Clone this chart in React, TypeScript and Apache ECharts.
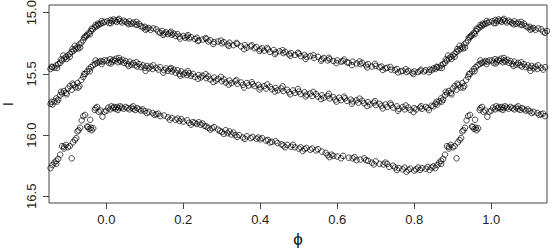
import React, { useEffect, useRef } from "react";
import * as echarts from "echarts";

// Phase range shown and tick values
const xMin = -0.149;
const xMax = 1.145;
const yMin = 14.937;
const yMax = 16.555;
const xTicks = [0, 0.2, 0.4, 0.6, 0.8, 1.0];
const yTicks = [15.0, 15.5, 16.0, 16.5];

// Light curve 1 (brightest), [phase, I mag], phase in [0,1)
const curveTop: number[][] = [
  [0.003,15.07],[0.007,15.085],[0.011,15.06],[0.015,15.07],[0.019,15.055],[0.023,15.065],[0.027,15.075],[0.031,15.06],[0.036,15.07],[0.041,15.08],
  [0.045,15.065],[0.05,15.075],[0.055,15.085],[0.06,15.07],[0.065,15.09],[0.07,15.08],[0.075,15.095],[0.08,15.1],[0.085,15.09],[0.09,15.11],
  [0.095,15.12],[0.1,15.115],[0.105,15.13],[0.11,15.125],[0.115,15.14],[0.13,15.135],[0.135,15.155],[0.14,15.165],[0.145,15.15],[0.15,15.17],
  [0.155,15.16],[0.16,15.175],[0.165,15.165],[0.17,15.18],[0.175,15.17],[0.18,15.19],[0.185,15.175],[0.19,15.195],[0.2,15.19],[0.205,15.205],
  [0.21,15.195],[0.215,15.21],[0.22,15.2],[0.23,15.215],[0.235,15.205],[0.24,15.225],[0.25,15.22],[0.26,15.215],[0.265,15.235],[0.27,15.225],
  [0.28,15.24],[0.29,15.235],[0.3,15.25],[0.305,15.24],[0.315,15.26],[0.32,15.245],[0.33,15.265],[0.34,15.255],[0.35,15.275],[0.36,15.265],
  [0.365,15.285],[0.375,15.275],[0.385,15.29],[0.39,15.28],[0.4,15.3],[0.405,15.29],[0.41,15.31],[0.42,15.3],[0.425,15.32],[0.435,15.305],
  [0.44,15.325],[0.45,15.315],[0.46,15.33],[0.465,15.32],[0.475,15.34],[0.48,15.33],[0.49,15.345],[0.5,15.335],[0.505,15.355],[0.515,15.345],
  [0.52,15.36],[0.53,15.355],[0.54,15.37],[0.55,15.36],[0.56,15.38],[0.565,15.37],[0.575,15.39],[0.58,15.38],[0.59,15.395],[0.6,15.39],
  [0.61,15.4],[0.615,15.395],[0.625,15.405],[0.63,15.41],[0.64,15.4],[0.65,15.415],[0.66,15.42],[0.665,15.41],[0.675,15.43],[0.68,15.42],
  [0.69,15.44],[0.7,15.435],[0.71,15.445],[0.715,15.44],[0.725,15.455],[0.73,15.45],[0.74,15.465],[0.75,15.47],[0.755,15.46],[0.765,15.48],
  [0.77,15.475],[0.78,15.485],[0.785,15.475],[0.795,15.49],[0.8,15.48],[0.81,15.485],[0.815,15.475],[0.825,15.48],[0.83,15.47],[0.84,15.465],
  [0.845,15.47],[0.85,15.455],[0.855,15.46],[0.86,15.445],[0.865,15.45],[0.87,15.43],[0.875,15.42],[0.88,15.41],[0.885,15.39],[0.888,15.35],
  [0.89,15.375],[0.895,15.36],[0.9,15.35],[0.905,15.335],[0.905,15.36],[0.91,15.32],[0.915,15.31],[0.918,15.27],[0.92,15.295],[0.925,15.28],
  [0.93,15.26],[0.932,15.285],[0.935,15.245],[0.94,15.225],[0.945,15.2],[0.948,15.19],[0.95,15.18],[0.955,15.165],[0.96,15.15],[0.962,15.13],
  [0.965,15.135],[0.97,15.12],[0.975,15.11],[0.978,15.09],[0.98,15.1],[0.985,15.09],[0.99,15.085],[0.995,15.075],
  [0.012,15.085],[0.033,15.05],[0.058,15.095],[0.078,15.075],[0.102,15.14],[0.122,15.128],[0.148,15.182],[0.168,15.155],[0.192,15.212],[0.212,15.183],
  [0.238,15.232],[0.258,15.207],[0.278,15.256],[0.298,15.228],[0.318,15.272],[0.338,15.247],[0.358,15.298],[0.378,15.266],[0.398,15.313],[0.418,15.288],
  [0.438,15.338],[0.458,15.306],[0.478,15.352],[0.498,15.327],[0.518,15.378],[0.538,15.347],[0.558,15.392],[0.578,15.368],[0.598,15.412],[0.618,15.383],
  [0.638,15.428],[0.658,15.398],[0.678,15.447],[0.698,15.418],[0.718,15.468],[0.738,15.443],[0.758,15.488],[0.778,15.462],[0.798,15.502],[0.818,15.466],
  [0.838,15.486],[0.858,15.442],[0.872,15.452],[0.882,15.382],[0.897,15.378],[0.912,15.297],[0.927,15.292],[0.942,15.203],[0.957,15.176],[0.972,15.1],
  [0.988,15.068]
];

// Light curve 2 (middle)
const curveMid: number[][] = [
  [0.002,15.39],[0.006,15.41],[0.01,15.38],[0.014,15.4],[0.018,15.385],[0.022,15.395],[0.026,15.375],[0.03,15.405],[0.034,15.39],[0.038,15.4],
  [0.042,15.385],[0.046,15.41],[0.05,15.395],[0.055,15.42],[0.06,15.4],[0.065,15.425],[0.07,15.41],[0.075,15.43],[0.08,15.44],[0.085,15.42],
  [0.09,15.445],[0.095,15.43],[0.1,15.45],[0.105,15.435],[0.11,15.455],[0.115,15.44],[0.12,15.46],[0.13,15.45],[0.135,15.465],[0.14,15.445],
  [0.15,15.47],[0.155,15.455],[0.16,15.475],[0.165,15.46],[0.17,15.48],[0.175,15.465],[0.18,15.49],[0.185,15.47],[0.19,15.5],[0.195,15.48],
  [0.2,15.505],[0.205,15.49],[0.21,15.51],[0.215,15.495],[0.22,15.515],[0.225,15.5],[0.23,15.525],[0.24,15.51],[0.245,15.53],[0.25,15.515],
  [0.26,15.535],[0.265,15.52],[0.27,15.545],[0.28,15.53],[0.285,15.555],[0.29,15.54],[0.3,15.56],[0.305,15.545],[0.31,15.57],[0.32,15.555],
  [0.325,15.575],[0.335,15.56],[0.34,15.58],[0.35,15.57],[0.355,15.59],[0.365,15.575],[0.37,15.595],[0.38,15.585],[0.385,15.6],[0.395,15.59],
  [0.4,15.61],[0.41,15.6],[0.415,15.62],[0.425,15.605],[0.43,15.625],[0.44,15.615],[0.445,15.635],[0.455,15.62],[0.46,15.64],[0.47,15.63],
  [0.475,15.65],[0.485,15.635],[0.49,15.655],[0.5,15.645],[0.505,15.665],[0.515,15.65],[0.52,15.67],[0.53,15.66],[0.535,15.68],[0.545,15.665],
  [0.55,15.685],[0.56,15.675],[0.565,15.695],[0.575,15.68],[0.58,15.7],[0.59,15.69],[0.595,15.71],[0.605,15.695],[0.61,15.715],[0.62,15.7],
  [0.625,15.72],[0.635,15.71],[0.64,15.725],[0.65,15.715],[0.655,15.735],[0.665,15.72],[0.67,15.74],[0.68,15.73],[0.685,15.75],[0.695,15.735],
  [0.7,15.755],[0.71,15.745],[0.715,15.76],[0.725,15.75],[0.73,15.77],[0.74,15.755],[0.745,15.775],[0.755,15.765],[0.76,15.785],[0.77,15.77],
  [0.775,15.79],[0.785,15.775],[0.79,15.795],[0.8,15.78],[0.805,15.79],[0.815,15.775],[0.82,15.785],[0.83,15.77],[0.835,15.78],[0.845,15.76],
  [0.85,15.765],[0.855,15.745],[0.86,15.75],[0.865,15.725],[0.87,15.7],[0.875,15.71],[0.88,15.675],[0.885,15.66],[0.89,15.64],[0.895,15.655],
  [0.9,15.62],[0.905,15.6],[0.91,15.63],[0.915,15.59],[0.92,15.61],[0.925,15.575],[0.93,15.6],[0.935,15.55],[0.94,15.525],[0.945,15.5],
  [0.95,15.48],[0.955,15.46],[0.96,15.445],[0.965,15.43],[0.97,15.42],[0.975,15.41],[0.98,15.405],[0.985,15.395],[0.99,15.4],[0.995,15.39],
  [0.012,15.415],[0.033,15.37],[0.058,15.435],[0.078,15.405],[0.102,15.475],[0.122,15.43],[0.148,15.49],[0.168,15.452],[0.192,15.515],[0.212,15.478],
  [0.238,15.54],[0.258,15.502],[0.278,15.566],[0.298,15.524],[0.318,15.588],[0.338,15.551],[0.358,15.612],[0.378,15.568],[0.398,15.627],[0.418,15.586],
  [0.438,15.644],[0.458,15.602],[0.478,15.667],[0.498,15.623],[0.518,15.684],[0.538,15.647],[0.558,15.706],[0.578,15.663],[0.598,15.727],[0.618,15.686],
  [0.638,15.744],[0.658,15.702],[0.678,15.763],[0.698,15.722],[0.718,15.782],[0.738,15.741],[0.758,15.801],[0.778,15.758],[0.798,15.812],[0.818,15.764],
  [0.838,15.796],[0.858,15.728],[0.872,15.726],[0.882,15.646],[0.897,15.667],[0.912,15.58],[0.927,15.612],[0.942,15.502],[0.957,15.478],[0.972,15.39],
  [0.988,15.42]
];

// Light curve 3 (faintest)
const curveLow: number[][] = [
  [0.0,15.8],[0.005,15.775],[0.01,15.79],[0.013,15.765],[0.017,15.78],[0.02,15.77],[0.024,15.785],[0.028,15.77],[0.032,15.78],[0.036,15.765],
  [0.04,15.775],[0.045,15.785],[0.05,15.77],[0.055,15.78],[0.06,15.79],[0.065,15.775],[0.07,15.785],[0.075,15.795],[0.08,15.78],[0.085,15.79],
  [0.09,15.8],[0.095,15.79],[0.1,15.805],[0.11,15.81],[0.12,15.82],[0.125,15.835],[0.13,15.83],[0.14,15.845],[0.15,15.84],[0.16,15.855],
  [0.17,15.86],[0.18,15.875],[0.185,15.865],[0.19,15.885],[0.2,15.89],[0.21,15.88],[0.215,15.9],[0.225,15.895],[0.23,15.9],[0.235,15.91],
  [0.245,15.915],[0.25,15.905],[0.255,15.925],[0.26,15.93],[0.265,15.94],[0.275,15.945],[0.28,15.935],[0.29,15.955],[0.295,15.965],[0.3,15.975],
  [0.31,15.96],[0.315,15.985],[0.32,15.97],[0.325,15.995],[0.335,16.0],[0.34,16.015],[0.345,16.0],[0.355,16.02],[0.365,16.01],[0.375,16.025],
  [0.38,16.015],[0.39,16.03],[0.4,16.035],[0.405,16.025],[0.415,16.045],[0.42,16.04],[0.43,16.055],[0.44,16.05],[0.445,16.065],[0.455,16.075],
  [0.46,16.085],[0.47,16.08],[0.48,16.095],[0.49,16.1],[0.5,16.11],[0.505,16.1],[0.515,16.115],[0.52,16.105],[0.53,16.12],[0.535,16.11],
  [0.545,16.125],[0.56,16.135],[0.57,16.145],[0.575,16.165],[0.585,16.16],[0.59,16.17],[0.6,16.175],[0.615,16.17],[0.63,16.185],[0.64,16.19],
  [0.645,16.18],[0.66,16.2],[0.675,16.205],[0.68,16.21],[0.69,16.225],[0.7,16.215],[0.71,16.235],[0.72,16.24],[0.73,16.235],[0.735,16.26],
  [0.745,16.25],[0.75,16.265],[0.76,16.27],[0.77,16.28],[0.775,16.265],[0.785,16.285],[0.79,16.275],[0.8,16.29],[0.805,16.28],[0.815,16.285],
  [0.82,16.27],[0.83,16.275],[0.835,16.26],[0.845,16.265],[0.85,16.255],[0.855,16.27],[0.86,16.245],[0.865,16.225],[0.87,16.21],[0.875,16.195],
  [0.88,16.16],[0.885,16.09],[0.89,16.11],[0.895,16.08],[0.9,16.1],[0.905,16.09],[0.91,16.19],[0.913,16.06],[0.918,16.04],[0.922,16.025],
  [0.928,15.96],[0.932,15.94],[0.936,15.88],[0.94,15.845],[0.945,15.835],[0.952,15.935],[0.956,15.95],[0.958,15.875],[0.962,15.96],[0.966,15.945],
  [0.972,15.78],[0.976,15.77],[0.98,15.81],[0.985,15.8],[0.99,15.85],[0.995,15.81],
  [0.03,15.795],[0.07,15.765],[0.105,15.82],[0.135,15.825],[0.165,15.875],[0.195,15.87],[0.22,15.915],[0.24,15.895],[0.27,15.955],[0.305,15.99],
  [0.33,15.98],[0.36,16.03],[0.395,16.02],[0.425,16.06],[0.465,16.1],[0.485,16.08],[0.51,16.13],[0.55,16.115],[0.58,16.18],[0.61,16.19],
  [0.65,16.205],[0.67,16.19],[0.695,16.24],[0.725,16.225],[0.755,16.285],[0.78,16.3],[0.81,16.265],[0.84,16.285],[0.87,16.235],[0.89,16.095],
  [0.925,15.97],[0.95,15.93],[0.96,15.94],[0.97,15.795]
];

// Repeat the folded curve one cycle on each side, as the plot does
function unfold(pts: number[][]): number[][] {
  const out: number[][] = [];
  for (const p of pts) {
    out.push(p);
    if (p[0] - 1 >= xMin) out.push([p[0] - 1, p[1]]);
    if (p[0] + 1 <= xMax) out.push([p[0] + 1, p[1]]);
  }
  return out;
}

const FONT = "'Liberation Sans', Arial, sans-serif";

export default function App() {
  const ref = useRef<HTMLDivElement>(null);
  useEffect(() => {
    if (!ref.current) return;
    const chart = echarts.init(ref.current, undefined, { renderer: "svg" });
    const seriesStyle = {
      type: "scatter" as const,
      symbol: "circle",
      symbolSize: 5.5,
      itemStyle: { color: "rgba(0,0,0,0)", borderColor: "#000", borderWidth: 0.9 },
      emphasis: { disabled: true },
      clip: true,
    };
    chart.setOption({
      animation: false,
      backgroundColor: "#fff",
      grid: {
        left: 49, right: 3, top: 5, bottom: 49,
        containLabel: false,
        outerBoundsMode: "none",
        show: true, borderColor: "#444", borderWidth: 1, backgroundColor: "transparent",
      },
      xAxis: {
        type: "value",
        min: xMin,
        max: xMax,
        splitLine: { show: false },
        axisLine: { show: false, onZero: false },
        axisTick: { show: true, inside: false, length: 6, lineStyle: { color: "#444" }, customValues: xTicks },
        axisLabel: {
          color: "#222", fontSize: 13, fontFamily: FONT, margin: 10,
          customValues: xTicks,
          formatter: (v: number) => v.toFixed(1),
        },
        name: "ϕ",
        nameLocation: "middle",
        nameGap: 23,
        nameTextStyle: { color: "#111", fontSize: 17, fontFamily: FONT },
      },
      yAxis: {
        type: "value",
        inverse: true,
        min: yMin,
        max: yMax,
        splitLine: { show: false },
        axisLine: { show: false, onZero: false },
        axisTick: { show: true, inside: false, length: 6, lineStyle: { color: "#444" }, customValues: yTicks },
        axisLabel: {
          color: "#222", fontSize: 13, fontFamily: FONT, margin: 11, rotate: 90,
          customValues: yTicks,
          formatter: (v: number) => v.toFixed(1),
        },
        name: "I",
        nameLocation: "middle",
        nameRotate: 90,
        nameGap: 34,
        nameTextStyle: { color: "#111", fontSize: 14, fontFamily: FONT, lineHeight: 14 },
      },
      series: [
        { ...seriesStyle, name: "top", data: unfold(curveTop) },
        { ...seriesStyle, name: "mid", data: unfold(curveMid) },
        { ...seriesStyle, name: "low", data: unfold(curveLow) },
      ],
    });
    return () => chart.dispose();
  }, []);
  return (
    <div
      ref={ref}
      style={{ position: "fixed", left: 0, top: 0, width: 550, height: 252, background: "#fff" }}
    />
  );
}
